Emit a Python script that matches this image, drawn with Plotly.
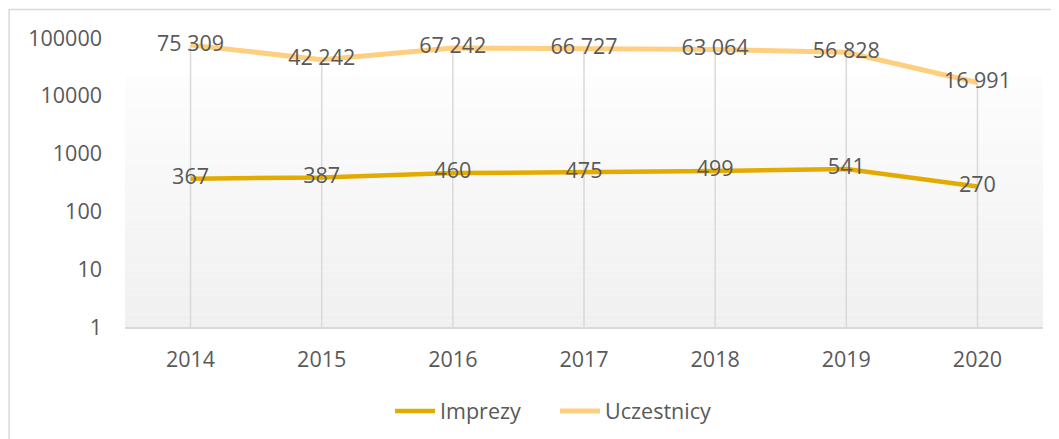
import plotly.graph_objects as go

years = ["2014", "2015", "2016", "2017", "2018", "2019", "2020"]
imprezy = [367, 387, 460, 475, 499, 541, 270]
uczestnicy = [75309, 42242, 67242, 66727, 63064, 56828, 16991]
y_ticks = [1, 10, 100, 1000, 10000, 100000]

FONT = "Open Sans"
TXT = "#595959"
C_IMP = "#E3AA00"
C_UCZ = "#FFCF80"
GRID = "#D9D9D9"

OFF = 8  # default page body margin
W, H = 1059 - OFF, 439 - OFF
L, R, T, B = 124.5 - OFF, 15.5, 38 - OFF, 112
PW, PH = W - L - R, H - T - B


def px_x(x):
    return (x - OFF - L) / PW


def px_y(y):
    return (H - B - (y - OFF)) / PH


def fmt(v):
    return f"{v:,}".replace(",", " ")


fig = go.Figure()

# drop lines from top series to axis
dx, dy = [], []
for yr, v in zip(years, uczestnicy):
    dx += [yr, yr, None]
    dy += [1, v, None]
fig.add_trace(go.Scatter(x=dx, y=dy, mode="lines", line=dict(color=GRID, width=1.5),
                         showlegend=False, hoverinfo="skip"))

fig.add_trace(go.Scatter(x=years, y=imprezy, name="Imprezy", mode="lines+text",
                         line=dict(color=C_IMP, width=4.5), cliponaxis=False,
                         text=[fmt(v) for v in imprezy], textposition="middle center",
                         textfont=dict(family=FONT, size=21.5, color=TXT)))
fig.add_trace(go.Scatter(x=years, y=uczestnicy, name="Uczestnicy", mode="lines+text",
                         line=dict(color=C_UCZ, width=5), cliponaxis=False,
                         text=[fmt(v) for v in uczestnicy], textposition="middle center",
                         textfont=dict(family=FONT, size=21.5, color=TXT)))

shapes = []
# gradient plot-area background
g_top, g_bot = 76, 327
n = 40
c0, c1 = (253, 253, 253), (240, 240, 240)
for i in range(n):
    ya = g_top + (g_bot - g_top) * i / n
    yb = g_top + (g_bot - g_top) * (i + 1) / n
    t = (i + 0.5) / n
    c = tuple(round(c0[k] + (c1[k] - c0[k]) * t) for k in range(3))
    shapes.append(dict(type="rect", xref="paper", yref="paper", x0=0, x1=1,
                       y0=px_y(yb), y1=px_y(ya), line=dict(width=0),
                       fillcolor=f"rgb{c}", layer="below"))
# chart border
shapes.append(dict(type="rect", xref="paper", yref="paper",
                   x0=px_x(8.5), x1=px_x(1075), y0=px_y(460), y1=px_y(9.5),
                   line=dict(color=GRID, width=1.5), fillcolor="rgba(0,0,0,0)"))

fig.update_layout(
    width=W, height=H,
    margin=dict(l=L, r=R, t=T, b=B, autoexpand=False),
    paper_bgcolor="white", plot_bgcolor="rgba(0,0,0,0)",
    font=dict(family=FONT, size=21.5, color=TXT),
    shapes=shapes,
    showlegend=True,
    legend=dict(orientation="h", x=px_x(555), xanchor="center", y=px_y(411), yanchor="middle",
                font=dict(family=FONT, size=21.5, color=TXT), bgcolor="rgba(0,0,0,0)",
                itemwidth=40, entrywidth=110, entrywidthmode="pixels", tracegroupgap=0),
    xaxis=dict(type="category", categoryorder="array", categoryarray=years,
               range=[-0.5, 6.5], showgrid=False, showline=True, linecolor=GRID, linewidth=1.5,
               ticks="", ticklabelstandoff=12, tickfont=dict(family=FONT, size=21.5, color=TXT),
               zeroline=False, fixedrange=True),
    yaxis=dict(type="log", range=[0, 5], tickvals=y_ticks, ticktext=[str(v) for v in y_ticks],
               showgrid=False, showline=False, ticks="", ticklabelstandoff=22,
               tickfont=dict(family=FONT, size=21.5, color=TXT), zeroline=False, fixedrange=True),
)

fig.write_html("out.html")
